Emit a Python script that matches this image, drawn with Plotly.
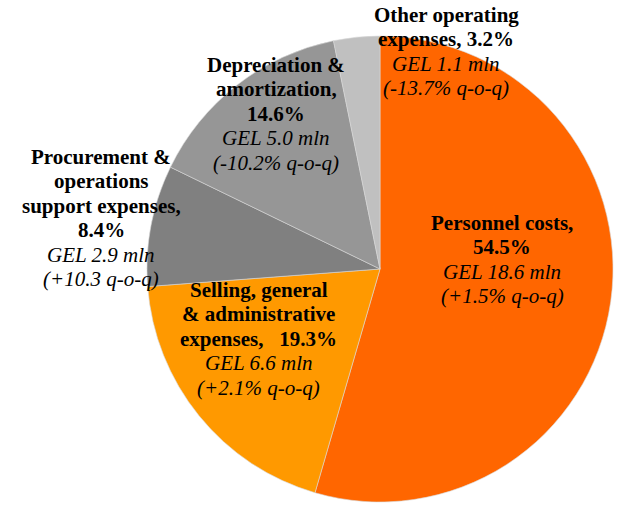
import plotly.graph_objects as go

categories = ["Personnel costs", "Selling, general & administrative expenses",
              "Procurement & operations support expenses", "Depreciation & amortization",
              "Other operating expenses"]
shares = [54.5, 19.3, 8.4, 14.6, 3.2]
gel_mln = [18.6, 6.6, 2.9, 5.0, 1.1]
qoq = ["+1.5%", "+2.1%", "+10.3", "-10.2%", "-13.7%"]
colors = ["#FF6600", "#FF9900", "#808080", "#969696", "#C0C0C0"]

label_heads = [
    ["Personnel costs,", f"{shares[0]}%"],
    ["Selling, general", "& administrative", f"expenses,\u00a0\u00a0 {shares[1]}%"],
    ["Procurement &", "operations", "support expenses,", f"{shares[2]}%"],
    ["Depreciation &", "amortization,", f"{shares[3]}%"],
    ["Other operating", f"expenses, {shares[4]}%"],
]

W, H = 617, 505
cx, cy, r = 380, 269, 233

fig = go.Figure(go.Pie(
    labels=categories, values=shares, sort=False, direction="clockwise", rotation=0,
    marker=dict(colors=colors, line=dict(color="#d9d9d9", width=0.6)),
    textinfo="none", hoverinfo="label+percent", showlegend=False,
    domain=dict(x=[(cx - r) / W, (cx + r) / W], y=[(H - cy - r) / H, (H - cy + r) / H]),
))

# label block anchors in page pixels: (x center, y of first line)
pos = [(502, 223), (258.5, 290), (101, 157), (276, 65), (446, 15)]
step = 24.4
FONT = "Liberation Serif"

for i in range(len(categories)):
    lines = [f"<b>{t}</b>" for t in label_heads[i]]
    lines.append(f"<i>GEL {gel_mln[i]:.1f} mln</i>")
    lines.append(f"<i>({qoq[i]} q-o-q)</i>")
    x0, y0 = pos[i]
    for k, ln in enumerate(lines):
        y = y0 + k * step
        fig.add_annotation(
            x=x0 / W, y=1 - y / H, xref="paper", yref="paper",
            xanchor="center", yanchor="middle",
            text=ln, showarrow=False, align="center",
            font=dict(family=FONT, size=21, color="#000000"),
        )

fig.update_layout(width=W, height=H, margin=dict(l=0, r=0, t=0, b=0),
                  paper_bgcolor="white", plot_bgcolor="white")
fig.write_html("out.html", config={"displayModeBar": False},
               post_script="document.body.style.margin='0';document.body.style.overflow='hidden';")
